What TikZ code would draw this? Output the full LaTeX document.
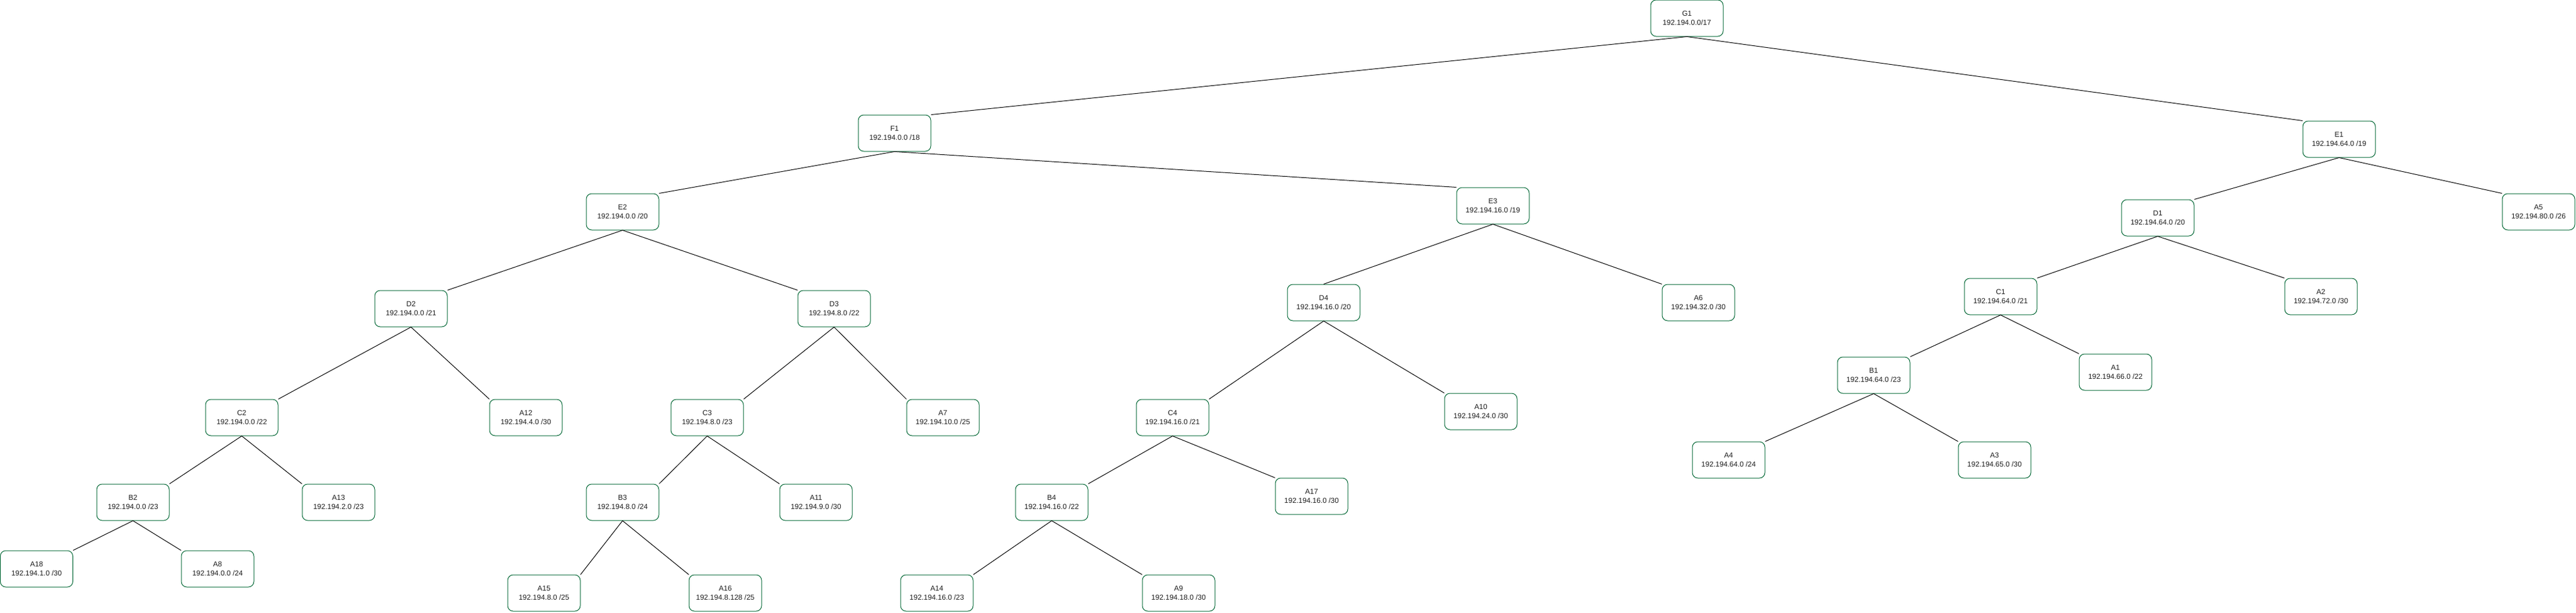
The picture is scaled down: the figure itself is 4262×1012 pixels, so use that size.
\documentclass[tikz,border=0pt]{standalone}
\usepackage{fontspec}
\setmainfont{Liberation Sans}
\definecolor{boxgreen}{RGB}{0,102,51}
\definecolor{txtgray}{RGB}{30,30,30}
\begin{document}
\begin{tikzpicture}[x=1pt,y=-1pt,
  box/.style={draw=boxgreen, line width=1pt, rounded corners=9pt, fill=white,
    minimum width=120pt, minimum height=60pt, inner sep=0pt, align=center,
    text=txtgray, font=\fontsize{12pt}{14.5pt}\selectfont},
  link/.style={draw=black, line width=1pt}]
\useasboundingbox (0,0) rectangle (4262,1012);
% level 0
\node[box] (G1) at (2791,30) {G1\\192.194.0.0/17};
% level 1
\node[box] (F1) at (1480,220) {F1\\192.194.0.0 /18};
\node[box] (E1) at (3870,230) {E1\\192.194.64.0 /19};
% level 2
\node[box] (E2) at (1030,350) {E2\\192.194.0.0 /20};
\node[box] (E3) at (2470,340) {E3\\192.194.16.0 /19};
\node[box] (D1) at (3570,360) {D1\\192.194.64.0 /20};
\node[box] (A5) at (4200,350) {A5\\192.194.80.0 /26};
% level 3
\node[box] (D2) at (680,510) {D2\\192.194.0.0 /21};
\node[box] (D3) at (1380,510) {D3\\192.194.8.0 /22};
\node[box] (D4) at (2190,500) {D4\\192.194.16.0 /20};
\node[box] (A6) at (2810,500) {A6\\192.194.32.0 /30};
\node[box] (C1) at (3310,490) {C1\\192.194.64.0 /21};
\node[box] (A2) at (3840,490) {A2\\192.194.72.0 /30};
% level 4
\node[box] (C2) at (400,690) {C2\\192.194.0.0 /22};
\node[box] (A12) at (870,690) {A12\\192.194.4.0 /30};
\node[box] (C3) at (1170,690) {C3\\192.194.8.0 /23};
\node[box] (A7) at (1560,690) {A7\\192.194.10.0 /25};
\node[box] (C4) at (1940,690) {C4\\192.194.16.0 /21};
\node[box] (A10) at (2450,680) {A10\\192.194.24.0 /30};
\node[box] (B1) at (3100,620) {B1\\192.194.64.0 /23};
\node[box] (A1) at (3500,615) {A1\\192.194.66.0 /22};
% level 5
\node[box] (B2) at (220,830) {B2\\192.194.0.0 /23};
\node[box] (A13) at (560,830) {A13\\192.194.2.0 /23};
\node[box] (B3) at (1030,830) {B3\\192.194.8.0 /24};
\node[box] (A11) at (1350,830) {A11\\192.194.9.0 /30};
\node[box] (B4) at (1740,830) {B4\\192.194.16.0 /22};
\node[box] (A17) at (2170,820) {A17\\192.194.16.0 /30};
\node[box] (A4) at (2860,760) {A4\\192.194.64.0 /24};
\node[box] (A3) at (3300,760) {A3\\192.194.65.0 /30};
% level 6
\node[box] (A18) at (60.5,940) {A18\\192.194.1.0 /30};
\node[box] (A8) at (360,940) {A8\\192.194.0.0 /24};
\node[box] (A15) at (900,980) {A15\\192.194.8.0 /25};
\node[box] (A16) at (1200,980) {A16\\192.194.8.128 /25};
\node[box] (A14) at (1550,980) {A14\\192.194.16.0 /23};
\node[box] (A9) at (1950,980) {A9\\192.194.18.0 /30};
% connectors
\draw[link] (G1.south) -- (F1.north east);
\draw[link] (G1.south) -- (E1.north west);
\draw[link] (F1.south) -- (E2.north east);
\draw[link] (F1.south) -- (E3.north west);
\draw[link] (E2.south) -- (D2.north east);
\draw[link] (E2.south) -- (D3.north west);
\draw[link] (D2.south) -- (C2.north east);
\draw[link] (D2.south) -- (A12.north west);
\draw[link] (C2.south) -- (B2.north east);
\draw[link] (C2.south) -- (A13.north west);
\draw[link] (B2.south) -- (A18.north east);
\draw[link] (B2.south) -- (A8.north west);
\draw[link] (D3.south) -- (C3.north east);
\draw[link] (D3.south) -- (A7.north west);
\draw[link] (C3.south) -- (B3.north east);
\draw[link] (C3.south) -- (A11.north west);
\draw[link] (B3.south) -- (A15.north east);
\draw[link] (B3.south) -- (A16.north west);
\draw[link] (E3.south) -- (D4.north);
\draw[link] (E3.south) -- (A6.north west);
\draw[link] (D4.south) -- (C4.north east);
\draw[link] (D4.south) -- (A10.north west);
\draw[link] (C4.south) -- (B4.north east);
\draw[link] (C4.south) -- (A17.north west);
\draw[link] (B4.south) -- (A14.north east);
\draw[link] (B4.south) -- (A9.north west);
\draw[link] (E1.south) -- (D1.north east);
\draw[link] (E1.south) -- (A5.north west);
\draw[link] (D1.south) -- (C1.north east);
\draw[link] (D1.south) -- (A2.north west);
\draw[link] (C1.south) -- (B1.north east);
\draw[link] (C1.south) -- (A1.north west);
\draw[link] (B1.south) -- (A4.north east);
\draw[link] (B1.south) -- (A3.north west);
\end{tikzpicture}
\end{document}
